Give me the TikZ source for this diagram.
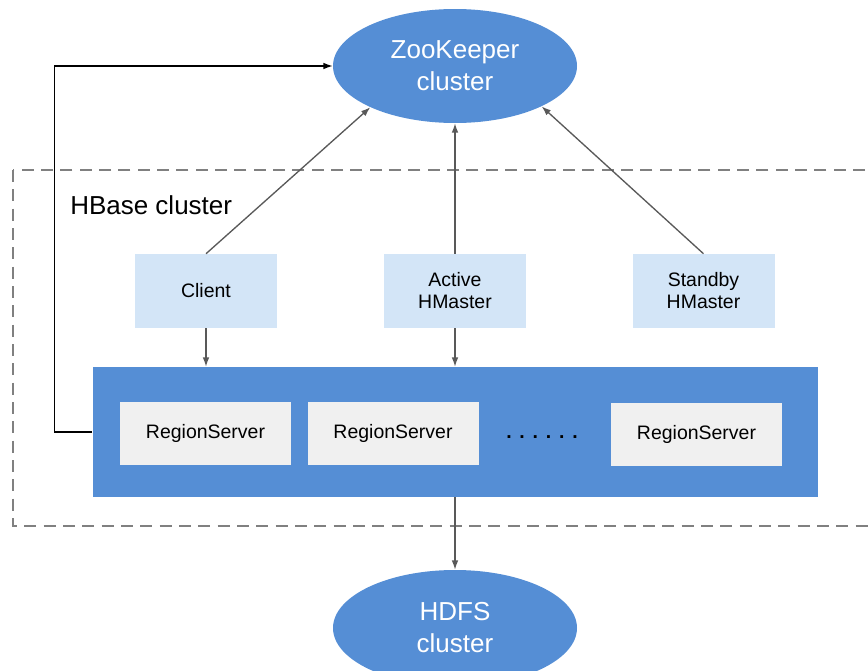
\documentclass[tikz,border=0pt]{standalone}
\usepackage{fontspec}
\setmainfont{Liberation Sans}
\usetikzlibrary{shapes.geometric}
\usetikzlibrary{arrows.meta}
\definecolor{clusterblue}{RGB}{85,142,213}
\definecolor{lightblue}{RGB}{211,229,247}
\definecolor{servergray}{RGB}{240,240,240}
\definecolor{dashgray}{RGB}{128,128,128}
\definecolor{arrowgray}{RGB}{89,89,89}

\begin{document}
\begin{tikzpicture}[x=0.75pt, y=-0.75pt, >={Latex[length=7pt,width=5pt]},
		cloud/.style={ellipse, fill=clusterblue, text=white, align=center, inner sep=0pt,
			font=\fontsize{19.5}{24}\selectfont},
		rolebox/.style={rectangle, fill=lightblue, align=center, minimum width=106.5pt,
			minimum height=55.5pt, font=\fontsize{14.6}{16.5}\selectfont},
		serverbox/.style={rectangle, fill=servergray, minimum width=128.25pt,
			minimum height=47.25pt, font=\fontsize{14.6}{16.5}\selectfont},
		link/.style={->, draw=arrowgray, line width=1pt}]
		\useasboundingbox (0,0) rectangle (868,671);
		\draw [dashgray, line width=1.5pt, dash pattern=on 9pt off 5.5pt] (13,170) rectangle (895,526);
		\node[anchor=west, inner sep=0pt, font=\fontsize{19.5}{24}\selectfont] (hbase) at (70,205) {HBase cluster};
		\node[cloud, minimum width=183pt, minimum height=85.5pt] (zk) at (455,66) {ZooKeeper\\cluster};
		\node[cloud, minimum width=183pt, minimum height=87pt] (hdfs) at (455,628) {HDFS\\cluster};
		\node[rolebox] (client) at (206,291) {Client};
		\node[rolebox] (active) at (455,291) {Active\\HMaster};
		\node[rolebox] (standby) at (703.5,291) {Standby\\HMaster};
		\node[rectangle, fill=clusterblue, minimum width=543.75pt, minimum height=97.5pt] (rsgroup) at (455,432) {};
		\node[serverbox] (rs1) at (205.5,433.5) {RegionServer};
		\node[serverbox] (rs2) at (393,433.5) {RegionServer};
		\node[serverbox] (rs3) at (696.5,434.5) {RegionServer};
		\node[anchor=base, inner sep=0pt, font=\fontsize{14.6}{16.5}\selectfont\bfseries] (dots) at (542,438)
			{.\hspace{5.85pt}.\hspace{5.85pt}.\hspace{5.85pt}.\hspace{5.85pt}.\hspace{5.85pt}.};
		\draw [link] (client.north) -- (zk.206);
		\draw [link] (active.north) -- (zk.south);
		\draw [link] (standby.north) -- (zk.335);
		\draw [link] (client.south) -- (client.south |- rsgroup.north);
		\draw [link] (active.south) -- (active.south |- rsgroup.north);
		\draw [link] (rsgroup.south) -- (hdfs.north);
		\draw [->, line width=1pt] (rsgroup.west) -- ++(-38,0) |- (zk.west);
	\end{tikzpicture}
\end{document}
